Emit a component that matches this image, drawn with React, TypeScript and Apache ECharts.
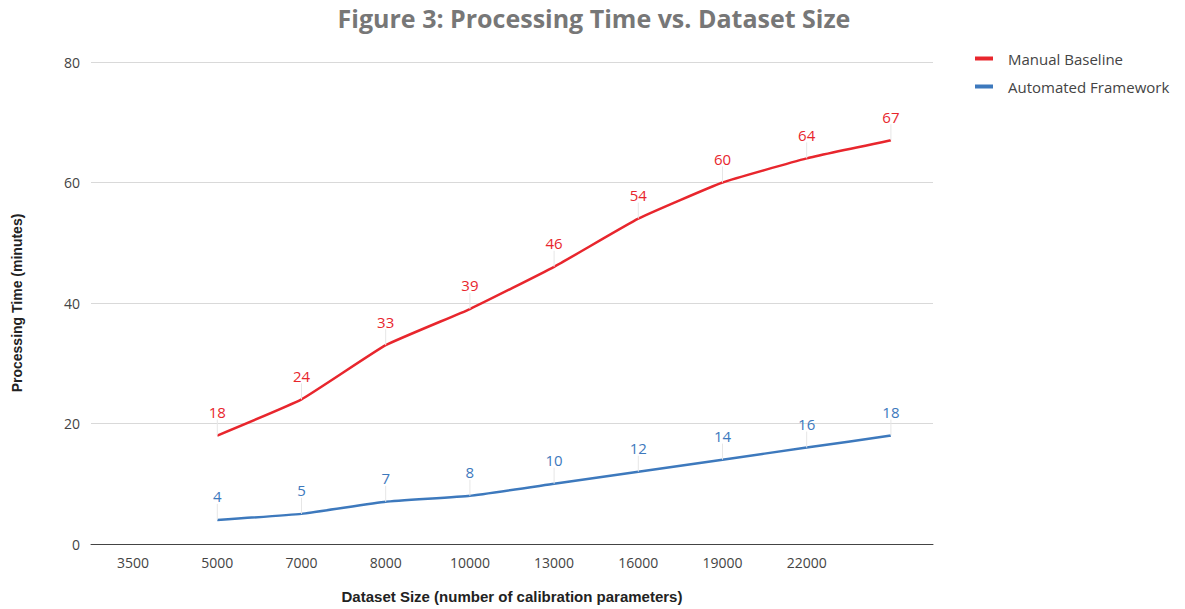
import React, { useEffect, useRef } from "react";
import * as echarts from "echarts";

const categories = ["3500", "5000", "7000", "8000", "10000", "13000", "16000", "19000", "22000", ""];
const manualBaseline = [null, 18, 24, 33, 39, 46, 54, 60, 64, 67];
const automatedFramework = [null, 4, 5, 7, 8, 10, 12, 14, 16, 18];
const yTicks = { min: 0, max: 80, interval: 20 };

export default function App() {
  const ref = useRef<HTMLDivElement>(null);
  useEffect(() => {
    if (!ref.current) return;
    const chart = echarts.init(ref.current, null, { renderer: "svg" });
    const font = "'Open Sans', sans-serif";
    const mkSeries = (name: string, data: (number | null)[], color: string) => ({
      name,
      type: "line",
      data,
      symbol: "circle",
      symbolSize: 0.1,
      showSymbol: true,
      smooth: 0.12,
      lineStyle: { color, width: 2.5 },
      itemStyle: { color },
      label: {
        show: true,
        position: "top",
        distance: 2,
        color,
        fontFamily: font,
        fontSize: 15,
      },
      labelLayout: { dy: -14 },
      labelLine: { show: true, lineStyle: { color: "#e6e6e6", width: 1 } },
    });
    chart.setOption({
      animation: false,
      backgroundColor: "#ffffff",
      title: {
        text: "Figure 3: Processing Time vs. Dataset Size",
        left: 589,
        top: 0,
        textAlign: "center",
        textStyle: { fontFamily: font, fontSize: 25, fontWeight: "bold", color: "#777777" },
      },
      legend: {
        orient: "vertical",
        left: 970,
        top: 46,
        itemGap: 13,
        itemWidth: 18,
        itemHeight: 4,
        icon: "rect",
        textStyle: { fontFamily: font, fontSize: 15, color: "#444444", padding: [0, 0, 0, 10] },
        data: ["Manual Baseline", "Automated Framework"],
      },
      grid: { left: 91, right: 252, top: 62, bottom: 65, containLabel: false, outerBoundsMode: "none" },
      xAxis: {
        type: "category",
        data: categories,
        boundaryGap: true,
        name: "Dataset Size (number of calibration parameters)",
        nameLocation: "middle",
        nameGap: 45,
        nameTextStyle: { fontFamily: "'Liberation Sans', sans-serif", fontSize: 15, fontWeight: "bold", color: "#222222" },
        axisLine: { lineStyle: { color: "#444444", width: 1 } },
        axisTick: { show: false },
        axisLabel: { fontFamily: font, fontSize: 14, color: "#444444", margin: 11 },
      },
      yAxis: {
        type: "value",
        min: yTicks.min,
        max: yTicks.max,
        interval: yTicks.interval,
        name: "Processing Time (minutes)",
        nameLocation: "middle",
        nameGap: 67,
        nameTextStyle: { fontFamily: "'Liberation Sans', sans-serif", fontSize: 14, fontWeight: "bold", color: "#222222" },
        axisLine: { show: false },
        axisTick: { show: false },
        axisLabel: { fontFamily: font, fontSize: 14, color: "#444444", margin: 11 },
        splitLine: { lineStyle: { color: "#d9d9d9", width: 1 } },
      },
      series: [
        mkSeries("Manual Baseline", manualBaseline, "#e8262d"),
        mkSeries("Automated Framework", automatedFramework, "#3d79bd"),
      ],
    });
    return () => chart.dispose();
  }, []);
  return <div ref={ref} style={{ width: 1185, height: 609, position: "absolute", left: 0, top: 0 }} />;
}
